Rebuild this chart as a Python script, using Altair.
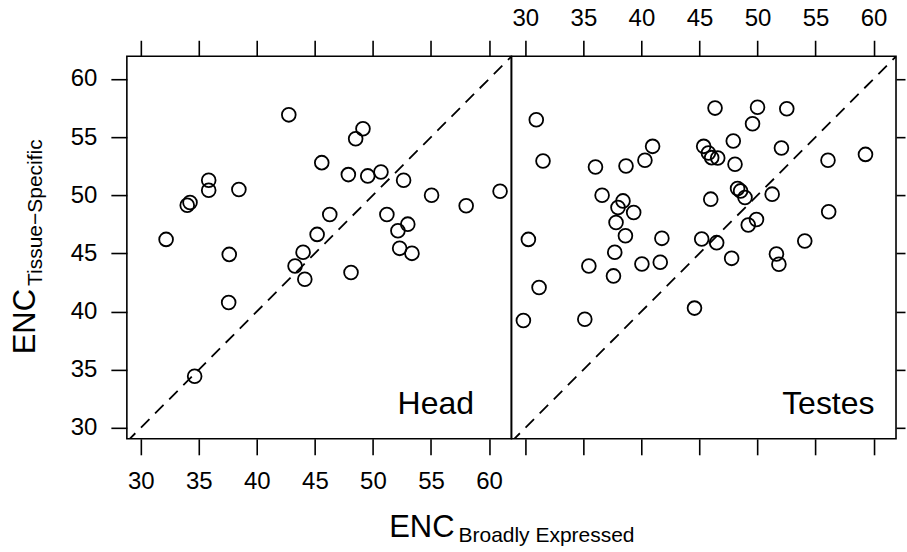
import altair as alt
import pandas as pd

# ---- data ----
panel_names = ["Head", "Testes"]

head_x = [42.75, 49.14, 48.51, 45.59, 47.88, 49.55, 50.69, 52.64, 35.85, 35.85,
          38.45, 34.00, 34.24, 55.05, 58.03, 60.95, 46.28, 51.20, 53.00, 52.15,
          45.19, 32.18, 37.62, 43.98, 43.29, 44.13, 52.30, 53.36, 48.11, 37.57,
          34.64]
head_y = [56.91, 55.71, 54.86, 52.80, 51.77, 51.66, 52.00, 51.29, 51.29, 50.43,
          50.49, 49.14, 49.37, 50.00, 49.09, 50.34, 48.34, 48.34, 47.51, 46.94,
          46.63, 46.20, 44.91, 45.09, 43.91, 42.77, 45.43, 45.00, 43.35, 40.77,
          34.43]

testes_x = [30.94, 31.52, 36.04, 38.67, 40.30, 40.96, 45.36, 45.77, 46.05, 46.57,
            46.34, 50.00, 52.52, 49.57, 47.91, 52.06, 48.06, 56.07, 59.30, 36.61,
            38.41, 37.98, 39.33, 37.81, 45.97, 48.28, 48.54, 48.92, 51.26, 49.91,
            49.20, 56.13, 30.26, 38.62, 41.76, 45.19, 46.48, 54.07, 37.70, 35.47,
            37.59, 40.04, 41.62, 47.77, 51.63, 51.84, 31.18, 29.83, 35.12, 44.57]
testes_y = [56.49, 52.94, 52.43, 52.51, 53.00, 54.20, 54.20, 53.63, 53.23, 53.20,
            57.49, 57.57, 57.43, 56.14, 54.66, 54.06, 52.66, 53.00, 53.51, 50.00,
            49.51, 48.94, 48.51, 47.66, 49.66, 50.57, 50.37, 49.80, 50.09, 47.91,
            47.43, 48.57, 46.20, 46.51, 46.29, 46.23, 45.92, 46.06, 45.09, 43.91,
            43.06, 44.09, 44.23, 44.57, 44.94, 44.06, 42.06, 39.23, 39.34, 40.29]

tick_values = [30, 35, 40, 45, 50, 55, 60]
x_limits = [28.8, 61.93]
y_limits = [29.05, 61.95]
diag_values = [28.8, 61.95]

x_title = ["ENC", "Broadly Expressed"]
y_title = ["ENC", "Tissue\u2212Specific"]

# ---- styling ----
FONT = "Liberation Sans"
W, H = 385, 383


def axis(orient, labels, pad, tick=16):
    return alt.Axis(orient=orient, values=tick_values, labels=labels, title=None,
                    domain=False, grid=False, ticks=True, tickSize=tick,
                    tickWidth=1.6, tickColor="black", labelFont=FONT,
                    labelFontSize=24, labelColor="black", labelPadding=pad,
                    labelFlush=False, labelOverlap=False)


def panel(xs, ys, name, left):
    xsc = alt.Scale(domain=x_limits, nice=False, zero=False)
    ysc = alt.Scale(domain=y_limits, nice=False, zero=False)
    df = pd.DataFrame({"x": xs, "y": ys})
    pts = alt.Chart(df).mark_point(shape="circle", filled=False, size=190,
                                   color="black", strokeWidth=1.8, opacity=1).encode(
        x=alt.X("x:Q", scale=xsc, axis=axis("bottom", left, 15)),
        y=alt.Y("y:Q", scale=ysc,
                axis=axis("left", True, 14) if left else axis("right", False, 14, 9)),
    )
    diag = alt.Chart(pd.DataFrame({"x": diag_values, "y": diag_values})).mark_line(
        color="black", strokeWidth=1.8, strokeDash=[12, 8], clip=True).encode(
        x=alt.X("x:Q", scale=xsc, axis=axis("top", not left, 10)),
        y=alt.Y("y:Q", scale=ysc, axis=None),
    )
    lab = alt.Chart(pd.DataFrame({"label": [name]})).mark_text(
        align="left", baseline="alphabetic", fontSize=32, font=FONT, color="black").encode(
        x=alt.value(271), y=alt.value(358.5), text="label:N")
    layers = [pts, diag, lab]
    if left:
        xt_main = alt.Chart(pd.DataFrame({"t": [x_title[0]]})).mark_text(
            align="right", baseline="alphabetic", fontSize=31, font=FONT, color="black").encode(
            x=alt.value(328), y=alt.value(481), text="t:N")
        xt_sub = alt.Chart(pd.DataFrame({"t": [x_title[1]]})).mark_text(
            align="left", baseline="alphabetic", fontSize=21, font=FONT, color="black").encode(
            x=alt.value(332), y=alt.value(486.3), text="t:N")
        yt_main = alt.Chart(pd.DataFrame({"t": [y_title[0]]})).mark_text(
            align="right", baseline="alphabetic", angle=270, fontSize=31, font=FONT,
            color="black").encode(x=alt.value(-92), y=alt.value(233), text="t:N")
        yt_sub = alt.Chart(pd.DataFrame({"t": [y_title[1]]})).mark_text(
            align="left", baseline="alphabetic", angle=270, fontSize=21, font=FONT,
            color="black").encode(x=alt.value(-85.3), y=alt.value(230), text="t:N")
        layers += [xt_main, xt_sub, yt_main, yt_sub]
    return alt.layer(*layers).resolve_axis(x="independent", y="independent").properties(
        width=W, height=H)


left_panel = panel(head_x, head_y, panel_names[0], True)
right_panel = panel(testes_x, testes_y, panel_names[1], False)

chart = alt.hconcat(left_panel, right_panel, spacing=0, bounds="flush").properties(
    padding={"left": 9, "top": 5, "right": 0, "bottom": 0},
    background="white",
).configure_view(stroke="black", strokeWidth=1.6)

chart.save("out.html", embed_options={"renderer": "svg", "actions": False})
